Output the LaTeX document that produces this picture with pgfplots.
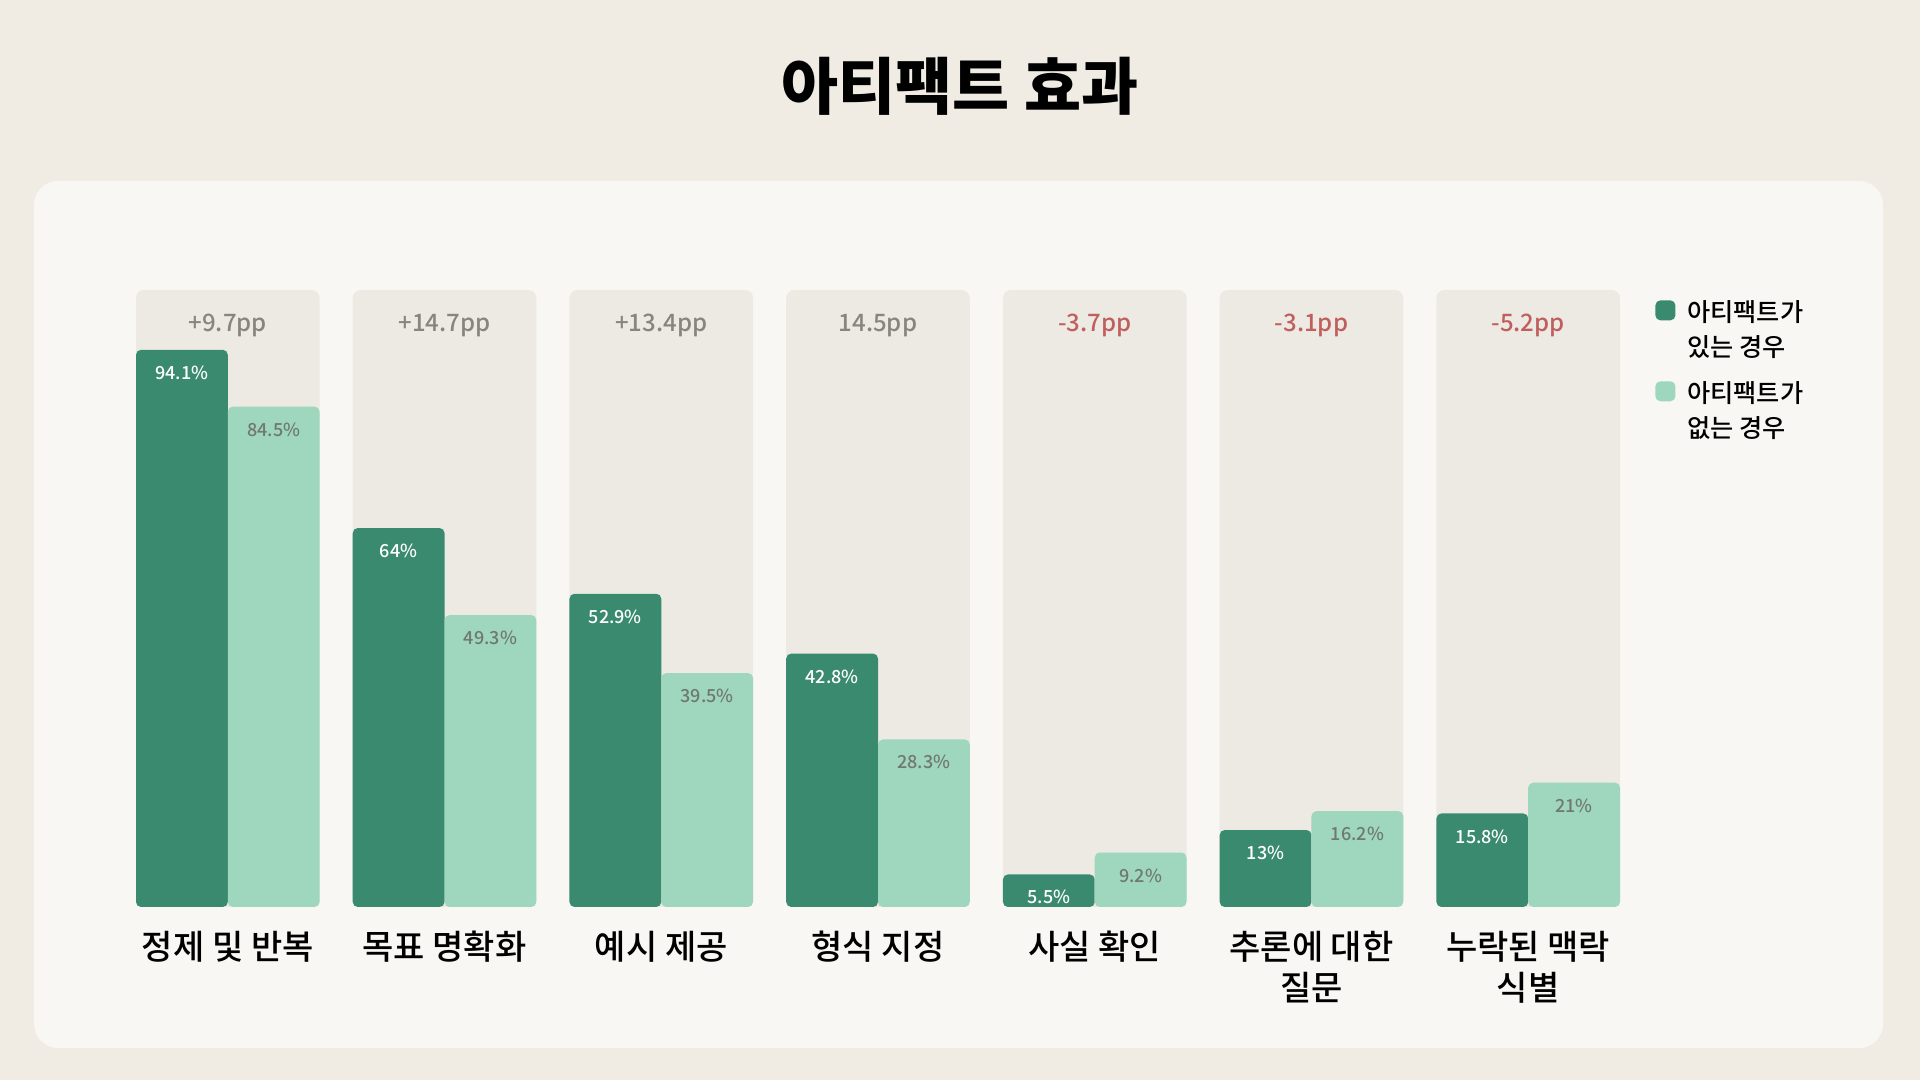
\documentclass[border=0pt]{standalone}
\usepackage{fontspec}
\setmainfont{Noto Sans CJK KR}
\newfontfamily\medfont{Noto Sans CJK KR Medium}
\usepackage{pgfplots}
\pgfplotsset{compat=1.18}
\definecolor{pagebg}{RGB}{240,236,228}
\definecolor{panelbg}{RGB}{248,247,243}
\definecolor{colbg}{RGB}{237,234,227}
\definecolor{withc}{RGB}{58,138,112}
\definecolor{withoutc}{RGB}{158,214,190}
\definecolor{gaintxt}{RGB}{135,133,125}
\definecolor{losstxt}{RGB}{192,96,94}
\definecolor{lighttxt}{RGB}{112,120,112}

\begin{document}
\begin{tikzpicture}
\fill[pagebg] (0,0) rectangle (960pt,540pt);
\fill[panelbg, rounded corners=12pt] (17pt,16pt) rectangle (941.5pt,449.5pt);
\node[font=\fontsize{31}{34}\selectfont\bfseries] at (480pt,497pt) {아티팩트 효과};
\begin{axis}[
  at={(68pt,86.5pt)}, anchor=south west,
  scale only axis, width=742pt, height=308.5pt,
  xmin=-0.4235, xmax=6.4235, ymin=0, ymax=104.2,
  axis line style={draw=none}, major tick length=0pt,
  ytick=\empty, xtick={0,...,6},
  xticklabels={정제 및 반복, 목표 명확화, 예시 제공, 형식 지정, 사실 확인, {추론에 대한\\질문}, {누락된 맥락\\식별}},
  xticklabel style={font=\medfont\fontsize{17}{20.5}\selectfont, align=center, text=black, yshift=-8.5pt},
  clip=false,
  point meta=explicit symbolic,
  nodes near coords,
  legend style={at={(rel axis cs:1,1)}, anchor=north west, xshift=17.5pt, yshift=-1pt,
    draw=none, fill=none, font=\medfont\fontsize{12.6}{17.8}\selectfont, row sep=22.5pt, inner sep=0pt},
  legend cell align=left,
  legend image code/.code={\fill[#1] (0pt,-5pt) rectangle (10pt,5pt); \path (14pt,0pt);},
]
% background columns with differences
\addplot[ybar, bar width=0.847, bar shift=0pt, fill=colbg, draw=none, rounded corners=4pt, forget plot,
  every node near coord/.append style={anchor=north, yshift=-8.5pt, text=gaintxt, font=\medfont\fontsize{12}{14}\selectfont}]
  coordinates {(0,104.2)[+9.7pp] (1,104.2)[+14.7pp] (2,104.2)[+13.4pp] (3,104.2)[14.5pp]};
\addplot[ybar, bar width=0.847, bar shift=0pt, fill=colbg, draw=none, rounded corners=4pt, forget plot,
  every node near coord/.append style={anchor=north, yshift=-8.5pt, text=losstxt, font=\medfont\fontsize{12}{14}\selectfont}]
  coordinates {(4,104.2)[-3.7pp] (5,104.2)[-3.1pp] (6,104.2)[-5.2pp]};
% with artifacts
\addplot[ybar, bar width=0.4235, bar shift=-0.21175, fill=withc, draw=none, rounded corners=2.5pt,
  every node near coord/.append style={anchor=north, xshift=-22.95pt, yshift=-4.5pt, text=white, font=\medfont\fontsize{9}{11}\selectfont}]
  coordinates {(0,94.1)[94.1\%] (1,64)[64\%] (2,52.9)[52.9\%] (3,42.8)[42.8\%] (4,5.5)[5.5\%] (5,13)[13\%] (6,15.8)[15.8\%]};
\addlegendentry{\begin{tabular}[t]{@{}l@{}}아티팩트가\\있는 경우\end{tabular}}
% without artifacts
\addplot[ybar, bar width=0.4235, bar shift=0.21175, fill=withoutc, draw=none, rounded corners=2.5pt,
  every node near coord/.append style={anchor=north, xshift=22.95pt, yshift=-4.5pt, text=lighttxt, font=\medfont\fontsize{9}{11}\selectfont}]
  coordinates {(0,84.5)[84.5\%] (1,49.3)[49.3\%] (2,39.5)[39.5\%] (3,28.3)[28.3\%] (4,9.2)[9.2\%] (5,16.2)[16.2\%] (6,21)[21\%]};
\addlegendentry{\begin{tabular}[t]{@{}l@{}}아티팩트가\\없는 경우\end{tabular}}
\end{axis}
\end{tikzpicture}
\end{document}
